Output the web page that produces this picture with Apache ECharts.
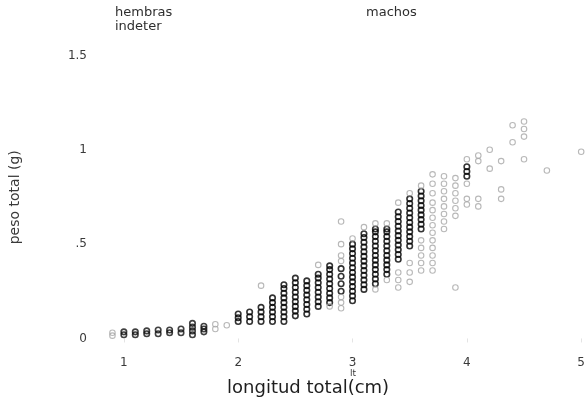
<!DOCTYPE html>
<html>
<head>
<meta charset="utf-8">
<script src="https://cdn.jsdelivr.net/npm/echarts@6/dist/echarts.min.js"></script>
<style>
  html, body { margin: 0; padding: 0; background: #ffffff; }
  #chart { width: 588px; height: 406px; }
</style>
</head>
<body>
<div id="chart"></div>
<script>
// longitud total (cm) vs peso total (g): each pair is [lt, pt]
const indeter = [
  [1.0, 0.02], [1.0, 0.035],
  [1.1, 0.02], [1.1, 0.035],
  [1.2, 0.025], [1.2, 0.04],
  [1.3, 0.025], [1.3, 0.045],
  [1.4, 0.03], [1.4, 0.045],
  [1.5, 0.03], [1.5, 0.05],
  [1.6, 0.02], [1.6, 0.04], [1.6, 0.06], [1.6, 0.08],
  [1.7, 0.035], [1.7, 0.05], [1.7, 0.065]
];

const hembras = [
  [2.0, 0.09], [2.0, 0.11], [2.0, 0.13],
  [2.1, 0.09], [2.1, 0.115], [2.1, 0.14],
  [2.2, 0.09], [2.2, 0.115], [2.2, 0.14], [2.2, 0.165],
  [2.3, 0.09], [2.3, 0.115], [2.3, 0.14], [2.3, 0.165], [2.3, 0.19], [2.3, 0.215],
  [2.4, 0.09], [2.4, 0.115], [2.4, 0.14], [2.4, 0.165], [2.4, 0.19], [2.4, 0.215], [2.4, 0.24], [2.4, 0.265], [2.4, 0.285],
  [2.5, 0.12], [2.5, 0.145], [2.5, 0.17], [2.5, 0.195], [2.5, 0.22], [2.5, 0.245], [2.5, 0.27], [2.5, 0.295], [2.5, 0.32],
  [2.6, 0.13], [2.6, 0.155], [2.6, 0.18], [2.6, 0.205], [2.6, 0.23], [2.6, 0.255], [2.6, 0.28], [2.6, 0.305],
  [2.7, 0.17], [2.7, 0.195], [2.7, 0.22], [2.7, 0.245], [2.7, 0.27], [2.7, 0.295], [2.7, 0.32], [2.7, 0.34],
  [2.8, 0.19], [2.8, 0.215], [2.8, 0.24], [2.8, 0.265], [2.8, 0.29], [2.8, 0.315], [2.8, 0.34], [2.8, 0.365], [2.8, 0.385],
  [2.9, 0.25], [2.9, 0.29], [2.9, 0.33], [2.9, 0.37],
  [3.0, 0.2], [3.0, 0.225], [3.0, 0.25], [3.0, 0.275], [3.0, 0.3], [3.0, 0.325], [3.0, 0.35], [3.0, 0.375], [3.0, 0.4], [3.0, 0.425], [3.0, 0.45], [3.0, 0.475], [3.0, 0.5],
  [3.1, 0.26], [3.1, 0.285], [3.1, 0.31], [3.1, 0.335], [3.1, 0.36], [3.1, 0.385], [3.1, 0.41], [3.1, 0.435], [3.1, 0.46], [3.1, 0.485], [3.1, 0.51], [3.1, 0.535], [3.1, 0.555],
  [3.2, 0.29], [3.2, 0.315], [3.2, 0.34], [3.2, 0.365], [3.2, 0.39], [3.2, 0.415], [3.2, 0.44], [3.2, 0.465], [3.2, 0.49], [3.2, 0.515], [3.2, 0.54], [3.2, 0.565], [3.2, 0.58],
  [3.3, 0.34], [3.3, 0.365], [3.3, 0.39], [3.3, 0.415], [3.3, 0.44], [3.3, 0.465], [3.3, 0.49], [3.3, 0.515], [3.3, 0.54], [3.3, 0.565], [3.3, 0.58],
  [3.4, 0.42], [3.4, 0.445], [3.4, 0.47], [3.4, 0.495], [3.4, 0.52], [3.4, 0.545], [3.4, 0.57], [3.4, 0.595], [3.4, 0.62], [3.4, 0.645], [3.4, 0.67],
  [3.5, 0.49], [3.5, 0.515], [3.5, 0.54], [3.5, 0.565], [3.5, 0.59], [3.5, 0.615], [3.5, 0.64], [3.5, 0.665], [3.5, 0.69], [3.5, 0.715], [3.5, 0.74],
  [3.6, 0.58], [3.6, 0.605], [3.6, 0.63], [3.6, 0.655], [3.6, 0.68], [3.6, 0.705], [3.6, 0.73], [3.6, 0.755], [3.6, 0.78],
  [4.0, 0.86], [4.0, 0.885], [4.0, 0.91]
];

const machos = [
  [0.9, 0.015], [0.9, 0.03], [1.8, 0.05], [1.8, 0.075], [1.9, 0.07],
  [2.2, 0.28], [2.7, 0.39], [2.8, 0.17],
  [2.9, 0.16], [2.9, 0.19], [2.9, 0.22], [2.9, 0.41], [2.9, 0.44], [2.9, 0.5], [2.9, 0.62],
  [3.0, 0.53], [3.1, 0.59], [3.2, 0.26], [3.2, 0.61], [3.3, 0.31], [3.3, 0.61],
  [3.4, 0.27], [3.4, 0.31], [3.4, 0.35], [3.4, 0.72],
  [3.5, 0.3], [3.5, 0.35], [3.5, 0.4], [3.5, 0.77],
  [3.6, 0.36], [3.6, 0.4], [3.6, 0.44], [3.6, 0.48], [3.6, 0.52], [3.6, 0.81],
  [3.7, 0.36], [3.7, 0.4], [3.7, 0.44], [3.7, 0.48], [3.7, 0.52], [3.7, 0.56], [3.7, 0.6], [3.7, 0.64], [3.7, 0.68], [3.7, 0.72], [3.7, 0.77], [3.7, 0.82], [3.7, 0.87],
  [3.8, 0.58], [3.8, 0.62], [3.8, 0.66], [3.8, 0.7], [3.8, 0.74], [3.8, 0.78], [3.8, 0.82], [3.8, 0.86],
  [3.9, 0.27], [3.9, 0.65], [3.9, 0.69], [3.9, 0.73], [3.9, 0.77], [3.9, 0.81], [3.9, 0.85],
  [4.0, 0.71], [4.0, 0.74], [4.0, 0.82], [4.0, 0.95],
  [4.1, 0.7], [4.1, 0.74], [4.1, 0.94], [4.1, 0.97],
  [4.2, 0.9], [4.2, 1.0],
  [4.3, 0.74], [4.3, 0.79], [4.3, 0.94],
  [4.4, 1.04], [4.4, 1.13],
  [4.5, 0.95], [4.5, 1.07], [4.5, 1.11], [4.5, 1.15],
  [4.7, 0.89], [5.0, 0.99]
];

// axis ticks and their printed labels
const xTicks = [1, 2, 3, 4, 5];
const yTicks = [0, 0.5, 1, 1.5];
const yTickLabels = ['0', '.5', '1', '1.5'];

const FONT = 'DejaVu Sans';

function circles(name, data, color, width) {
  return {
    name: name,
    type: 'scatter',
    data: data,
    symbol: 'circle',
    symbolSize: 5.5,
    itemStyle: { color: 'rgba(255,255,255,0)', borderColor: color, borderWidth: width },
    emphasis: { disabled: true },
    animation: false
  };
}

const chart = echarts.init(document.getElementById('chart'), null, { renderer: 'canvas' });
chart.setOption({
  backgroundColor: '#ffffff',
  animation: false,
  grid: { left: 99.3, right: 1.5, top: 36.6, bottom: 58.1, containLabel: false },
  xAxis: {
    type: 'value',
    min: 0.8,
    max: 5,
    name: 'longitud total(cm)',
    nameLocation: 'middle',
    nameGap: 31,
    nameTextStyle: { fontFamily: FONT, fontSize: 18, color: '#1e1e1e', padding: [0, 66, 0, 0] },
    axisLine: { show: false },
    axisTick: { show: true, customValues: xTicks, length: 4, lineStyle: { color: '#e4e4e4', width: 1 } },
    axisLabel: { customValues: xTicks, margin: 9, fontFamily: FONT, fontSize: 12, color: '#3a3a3a' },
    splitLine: { show: false }
  },
  yAxis: {
    type: 'value',
    min: -0.05,
    max: 1.6,
    name: 'peso total (g)',
    nameLocation: 'middle',
    nameRotate: 90,
    nameGap: 79,
    nameTextStyle: { fontFamily: FONT, fontSize: 14, color: '#3a3a3a', padding: [0, 10, 0, 0] },
    axisLine: { show: false },
    axisTick: { show: false },
    axisLabel: {
      customValues: yTicks,
      margin: 14,
      fontFamily: FONT,
      fontSize: 12,
      color: '#3a3a3a',
      formatter: function (v) {
        const i = yTicks.findIndex(t => Math.abs(t - v) < 1e-9);
        return i >= 0 ? yTickLabels[i] : '';
      }
    },
    splitLine: { show: false }
  },
  graphic: [
    { type: 'text', left: 115, top: 6, style: { text: 'hembras', font: '13px "DejaVu Sans"', fill: '#2e2e2e' } },
    { type: 'text', left: 115, top: 20, style: { text: 'indeter', font: '13px "DejaVu Sans"', fill: '#2e2e2e' } },
    { type: 'text', left: 366, top: 6, style: { text: 'machos', font: '13px "DejaVu Sans"', fill: '#2e2e2e' } },
    { type: 'text', left: 350, top: 369, style: { text: 'lt', font: '9px "DejaVu Sans"', fill: '#3a3a3a' } }
  ],
  series: [
    circles('indeter', indeter, '#111111', 1.6),
    circles('hembras', hembras, '#000000', 1.6),
    circles('machos', machos, '#a6a6a6', 1.1)
  ]
});
</script>
</body>
</html>
